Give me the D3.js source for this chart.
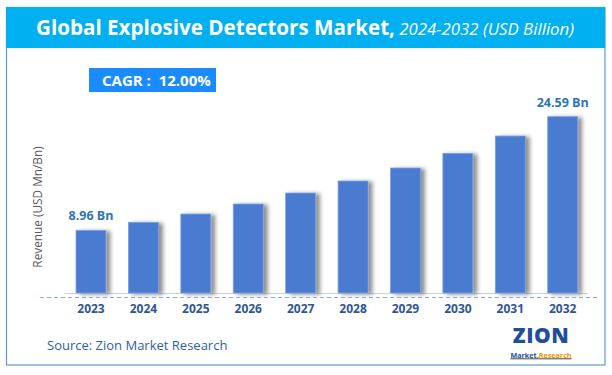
<!DOCTYPE html>
<html>
<head>
<meta charset="utf-8">
<script src="https://cdn.jsdelivr.net/npm/d3@7"></script>
<style>
  html, body { margin: 0; padding: 0; background: #ffffff; }
  svg text { font-family: "Open Sans", Arial, sans-serif; }
</style>
</head>
<body>
<svg id="chart" width="612" height="375"></svg>
<script>
// data
const years = ["2023", "2024", "2025", "2026", "2027", "2028", "2029", "2030", "2031", "2032"];
const revenue = [8.96, 10.06, 11.2, 12.58, 14.09, 15.74, 17.53, 19.55, 21.93, 24.59];
const valueLabels = { "2023": "8.96 Bn", "2032": "24.59 Bn" };
const cagrText = "CAGR :  12.00%";

const W = 612, H = 375;
const svg = d3.select("#chart");

const barColor = "#4a7bd0";
const labelBlue = "#2e75b6";
const yearBlue = "#2f5597";

const defs = svg.append("defs");
const shadow = defs.append("filter").attr("id", "shadow")
  .attr("x", "-20%").attr("y", "-10%").attr("width", "160%").attr("height", "120%");
shadow.append("feDropShadow")
  .attr("dx", 4).attr("dy", 1).attr("stdDeviation", 2)
  .attr("flood-color", "#000").attr("flood-opacity", 0.45);

// outer frame
svg.append("rect")
  .attr("x", 6.5).attr("y", 7.5).attr("width", 598.5).attr("height", 357.5)
  .attr("fill", "#fff").attr("stroke", "#5b9bd5").attr("stroke-width", 1.2);

// title bar
svg.append("rect")
  .attr("x", 6).attr("y", 7).attr("width", 599).attr("height", 41)
  .attr("fill", "#00b0f0");

const title = svg.append("text")
  .attr("x", 305).attr("y", 35)
  .attr("text-anchor", "middle")
  .attr("fill", "#fff");
title.append("tspan").attr("font-size", 20.6).attr("font-weight", 700)
  .text("Global Explosive Detectors Market,");
title.append("tspan").attr("font-size", 16.8).attr("font-style", "italic")
  .text(" 2024-2032 (USD Billion)");

// CAGR badge
svg.append("rect")
  .attr("x", 89).attr("y", 68).attr("width", 127).attr("height", 24)
  .attr("fill", "#1a8cff");
svg.append("text")
  .attr("x", 102).attr("y", 86)
  .attr("font-size", 15).attr("font-weight", 700)
  .attr("fill", "#fff")
  .attr("xml:space", "preserve")
  .text(cagrText);

// scales
const x = d3.scaleBand()
  .domain(years)
  .range([64.8, 588.9])
  .paddingInner(0.428)
  .paddingOuter(0.214);

const y = d3.scaleLinear()
  .domain([0.333, 24.59])
  .range([293, 116.7]);

// baseline
svg.append("line")
  .attr("x1", 65).attr("x2", 588)
  .attr("y1", 293.5).attr("y2", 293.5)
  .attr("stroke", "#d0d0d0").attr("stroke-width", 1);

// bars
svg.append("g")
  .selectAll("rect")
  .data(years)
  .join("rect")
  .attr("x", d => x(d))
  .attr("y", (d, i) => y(revenue[i]))
  .attr("width", x.bandwidth())
  .attr("height", (d, i) => y.range()[0] - y(revenue[i]))
  .attr("fill", barColor)
  .attr("stroke", "#7ea3e3")
  .attr("stroke-width", 0.8)
  .attr("filter", "url(#shadow)");

// value labels on first and last bar
svg.append("g")
  .selectAll("text")
  .data(years.filter(d => valueLabels[d]))
  .join("text")
  .attr("x", d => x(d) + x.bandwidth() / 2)
  .attr("y", d => y(revenue[years.indexOf(d)]) - 10)
  .attr("text-anchor", "middle")
  .attr("font-size", 12.5).attr("font-weight", 700)
  .attr("fill", labelBlue)
  .text(d => valueLabels[d]);

// dashed axis line
svg.append("line")
  .attr("x1", 40).attr("x2", 597)
  .attr("y1", 297.5).attr("y2", 297.5)
  .attr("stroke", "#8eaadb").attr("stroke-width", 1.2)
  .attr("stroke-dasharray", "4,3");

// x axis labels
const xAxis = d3.axisBottom(x).tickSize(0).tickPadding(0);
const gx = svg.append("g").attr("transform", "translate(0,304)").call(xAxis);
gx.select(".domain").remove();
gx.selectAll("text")
  .attr("font-size", 12).attr("font-weight", 700)
  .attr("fill", yearBlue)
  .attr("font-family", "\"Open Sans\", Arial, sans-serif");

// y axis title
svg.append("text")
  .attr("transform", "translate(42,207) rotate(-90)")
  .attr("text-anchor", "middle")
  .attr("font-size", 11.8)
  .attr("fill", "#595959")
  .text("Revenue (USD Mn/Bn)");

// source
svg.append("text")
  .attr("x", 47).attr("y", 350)
  .attr("font-size", 13)
  .attr("fill", "#2f5f9f")
  .text("Source: Zion Market Research");

// logo
const logo = svg.append("g").attr("transform", "translate(541,0)");
logo.append("text")
  .attr("x", 0).attr("y", 343)
  .attr("text-anchor", "middle")
  .attr("font-size", 21).attr("font-weight", 800)
  .attr("fill", "#1f4e9a")
  .attr("letter-spacing", 0.5)
  .text("ZION");
const sub = logo.append("text")
  .attr("x", 0).attr("y", 357.5)
  .attr("text-anchor", "middle")
  .attr("font-size", 7.2).attr("font-weight", 700)
  .attr("text-decoration", "underline");
sub.append("tspan").attr("fill", "#1f4e9a").text("Market.");
sub.append("tspan").attr("fill", "#f39200").text("Research");
</script>
</body>
</html>
